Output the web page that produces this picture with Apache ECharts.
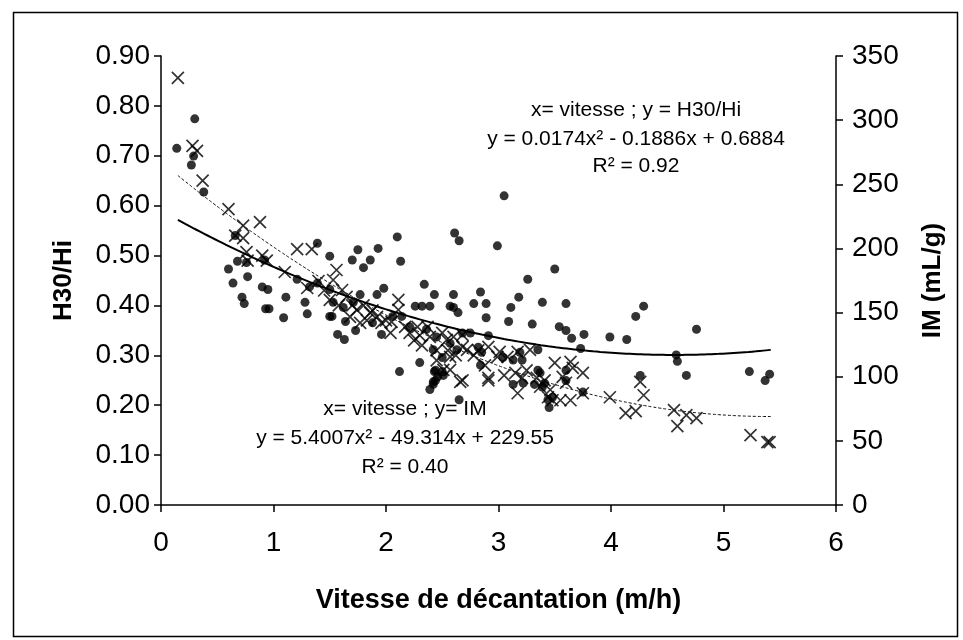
<!DOCTYPE html>
<html>
<head>
<meta charset="utf-8">
<script src="https://cdn.jsdelivr.net/npm/echarts@6/dist/echarts.min.js"></script>
<style>
  html, body { margin: 0; padding: 0; background: #fff; }
  #chart { width: 963px; height: 640px; }
</style>
</head>
<body>
<div id="chart"></div>
<script>
// Settling speed (m/h) vs. H30/Hi ratio (crosses, left axis)
const h30Speed = [0.15,0.28,0.32,0.37,0.60,0.73,0.88,0.66,0.73,0.76,0.77,0.90,0.94,1.10,1.21,1.34,1.30,1.40,1.56,1.53,
  1.61,1.50,1.65,1.74,1.68,1.77,1.86,1.92,1.96,2.04,2.11,2.11,2.05,2.17,2.21,2.28,2.37,2.39,2.50,2.54,
  2.60,2.68,2.57,2.51,2.57,2.68,2.68,2.72,2.91,2.91,3.01,3.08,2.99,3.17,3.28,3.15,3.21,3.17,3.50,3.64,
  3.66,3.75,3.34,3.41,3.37,3.46,3.57,3.60,3.44,3.48,3.55,3.64,3.75,3.99,4.26,4.29,4.13,4.22,4.56,4.67,
  4.76,4.59,5.24,5.39,5.41,1.45,1.58,1.70,1.80,1.83,1.88,2.00,2.25,2.32,2.45,2.55,2.62,2.78,2.82,2.88,
  3.05,3.25,2.45,2.30,2.66,2.91];
const h30Ratio = [0.856,0.720,0.710,0.650,0.593,0.560,0.567,0.540,0.535,0.507,0.490,0.500,0.490,0.467,0.513,0.513,0.435,0.449,0.471,0.451,
  0.431,0.411,0.417,0.391,0.377,0.365,0.385,0.377,0.365,0.345,0.411,0.391,0.367,0.357,0.345,0.357,0.357,0.337,0.345,0.331,
  0.337,0.317,0.297,0.271,0.271,0.250,0.341,0.311,0.317,0.255,0.307,0.297,0.297,0.307,0.311,0.265,0.255,0.224,0.285,0.287,
  0.275,0.265,0.255,0.250,0.237,0.231,0.257,0.245,0.216,0.210,0.210,0.210,0.224,0.216,0.247,0.220,0.184,0.188,0.190,0.180,
  0.174,0.158,0.140,0.126,0.126,0.430,0.400,0.400,0.400,0.370,0.390,0.370,0.330,0.320,0.310,0.310,0.300,0.300,0.310,0.280,
  0.260,0.270,0.290,0.340,0.247,0.250];

// Settling speed (m/h) vs. sludge volume index IM (dots, right axis)
const imSpeed = [0.14,0.30,0.27,0.29,0.38,0.60,0.64,0.68,0.72,0.74,0.76,0.77,0.90,0.95,0.93,0.96,1.09,1.11,1.21,1.28,
  1.30,1.39,1.50,1.50,1.57,1.63,1.70,1.75,1.80,1.86,1.93,1.73,1.77,1.92,1.98,1.96,2.10,2.13,2.12,2.34,
  2.26,2.32,2.30,2.43,2.39,2.42,2.44,2.43,2.60,2.61,2.65,2.57,2.60,2.64,2.50,2.51,2.65,2.78,2.84,2.89,
  2.89,2.84,2.91,2.99,3.05,3.11,3.09,3.18,3.26,3.30,3.39,3.50,3.54,3.60,3.60,3.65,3.76,3.73,3.99,4.14,
  4.22,4.29,4.26,4.58,4.59,4.67,4.76,5.23,5.37,5.41,1.32,1.39,1.50,1.53,1.62,1.71,1.52,1.64,1.88,2.06,
  2.14,2.21,2.36,2.45,2.42,2.50,2.57,2.63,2.68,2.75,2.82,2.85,3.04,3.13,3.19,3.21,3.35,3.13,3.22,3.35,
  3.37,3.32,3.39,3.41,3.44,3.45,3.48,3.60,3.60,3.75,2.44,2.46,2.42,2.39,0.66,0.92];
const imValue = [278,301,265,272,244,184,173,190,162,157,189,178,170,168,153,153,146,162,176,158,
  149,204,194,147,133,129,191,199,185,191,200,136,164,164,169,133,209,190,104,172,
  155,155,111,164,155,96,97,104,164,212,206,155,154,150,104,101,82,157,166,157,
  146,109,132,202,241,154,143,162,176,141,158,184,139,157,136,130,133,122,131,129,
  147,155,101,117,112,101,137,104,97,102,170,173,168,158,154,158,147,143,142,147,
  147,139,137,131,121,115,126,121,134,134,123,119,115,113,119,113,121,94,95,105,
  103,94,92,95,82,76,84,105,97,88,105,100,94,90,210,191];

// Quadratic trend coefficients [a, b, c] for y = a·x² + b·x + c
const h30Fit = [0.0174, -0.1886, 0.6884];
const imFit = [5.4007, -49.314, 229.55];
const fitRange = [0.15, 5.42];

// Axis tick labels
const xTicks = [0, 1, 2, 3, 4, 5, 6];
const leftTicks = ['0.00','0.10','0.20','0.30','0.40','0.50','0.60','0.70','0.80','0.90'];
const rightTicks = [0, 50, 100, 150, 200, 250, 300, 350];

function pairs(xs, ys) { return xs.map((x, i) => [x, ys[i]]); }
function fitCurve(c) {
  const pts = [];
  const n = 80;
  for (let i = 0; i <= n; i++) {
    const x = fitRange[0] + (fitRange[1] - fitRange[0]) * i / n;
    pts.push([x, c[0] * x * x + c[1] * x + c[2]]);
  }
  return pts;
}

const FONT = '"Liberation Sans", Arial, sans-serif';
const axisLineStyle = { color: '#000', width: 1.5 };
const tickFont = { fontFamily: FONT, fontSize: 28, color: '#000' };
const nameFont = { fontFamily: FONT, fontSize: 26, fontWeight: 'bold', color: '#000' };
const noteFont = '21px ' + FONT;

const chart = echarts.init(document.getElementById('chart'), null, { renderer: 'canvas' });
chart.setOption({
  animation: false,
  backgroundColor: '#fff',
  grid: { left: 161, right: 127, top: 56, bottom: 135 },
  xAxis: {
    type: 'value', min: xTicks[0], max: xTicks[xTicks.length - 1], interval: 1,
    name: 'Vitesse de décantation (m/h)', nameLocation: 'middle', nameGap: 82,
    nameTextStyle: Object.assign({}, nameFont, { fontSize: 27 }),
    axisLine: { show: true, onZero: false, lineStyle: axisLineStyle },
    axisTick: { show: true, inside: false, length: 7, lineStyle: axisLineStyle },
    axisLabel: Object.assign({ margin: 24 }, tickFont),
    splitLine: { show: false }
  },
  yAxis: [{
    type: 'value', min: 0, max: 0.9, interval: 0.1, position: 'left',
    name: 'H30/Hi', nameLocation: 'middle', nameGap: 84, nameRotate: 90,
    nameTextStyle: nameFont,
    axisLine: { show: true, onZero: false, lineStyle: axisLineStyle },
    axisTick: { show: true, inside: false, length: 7, lineStyle: axisLineStyle },
    axisLabel: Object.assign({ margin: 11, formatter: v => leftTicks[Math.round(v * 10)] }, tickFont),
    splitLine: { show: false }
  }, {
    type: 'value', min: rightTicks[0], max: rightTicks[rightTicks.length - 1], interval: 50, position: 'right',
    name: 'IM (mL/g)', nameLocation: 'middle', nameGap: 84, nameRotate: 90,
    nameTextStyle: nameFont,
    axisLine: { show: true, onZero: false, lineStyle: axisLineStyle },
    axisTick: { show: true, inside: false, length: 7, lineStyle: axisLineStyle },
    axisLabel: Object.assign({ margin: 16 }, tickFont),
    splitLine: { show: false }
  }],
  series: [{
    name: 'H30/Hi',
    type: 'scatter', yAxisIndex: 0,
    data: pairs(h30Speed, h30Ratio),
    symbol: 'path://M0,0L10,10M10,0L0,10',
    symbolSize: 12,
    itemStyle: { color: 'rgba(0,0,0,0)', borderColor: '#000', borderWidth: 1.7 },
    z: 3
  }, {
    name: 'IM',
    type: 'scatter', yAxisIndex: 1,
    data: pairs(imSpeed, imValue),
    symbol: 'circle', symbolSize: 9,
    itemStyle: { color: '#000' },
    z: 4
  }, {
    name: 'Tendance H30/Hi',
    type: 'line', yAxisIndex: 0, data: fitCurve(h30Fit),
    showSymbol: false, smooth: true,
    lineStyle: { color: '#111', width: 1, type: [3, 2] },
    z: 5
  }, {
    name: 'Tendance IM',
    type: 'line', yAxisIndex: 1, data: fitCurve(imFit),
    showSymbol: false, smooth: true,
    lineStyle: { color: '#000', width: 2 },
    z: 5
  }],
  graphic: [
    { type: 'rect', left: 11, top: 10, shape: { width: 944, height: 624 },
      style: { fill: 'none', stroke: '#000', lineWidth: 1.5 }, z: -1 },
    { type: 'text', x: 636, y: 110, style: { text: 'x= vitesse ; y = H30/Hi', font: noteFont, fill: '#000', align: 'center', verticalAlign: 'middle' } },
    { type: 'text', x: 636, y: 139, style: { text: 'y = 0.0174x² - 0.1886x + 0.6884', font: noteFont, fill: '#000', align: 'center', verticalAlign: 'middle' } },
    { type: 'text', x: 636, y: 166, style: { text: 'R² = 0.92', font: noteFont, fill: '#000', align: 'center', verticalAlign: 'middle' } },
    { type: 'text', x: 405, y: 409, style: { text: 'x= vitesse ; y= IM', font: noteFont, fill: '#000', align: 'center', verticalAlign: 'middle' } },
    { type: 'text', x: 405, y: 438, style: { text: 'y = 5.4007x² - 49.314x + 229.55', font: noteFont, fill: '#000', align: 'center', verticalAlign: 'middle' } },
    { type: 'text', x: 405, y: 467, style: { text: 'R² = 0.40', font: noteFont, fill: '#000', align: 'center', verticalAlign: 'middle' } }
  ]
});
</script>
</body>
</html>
